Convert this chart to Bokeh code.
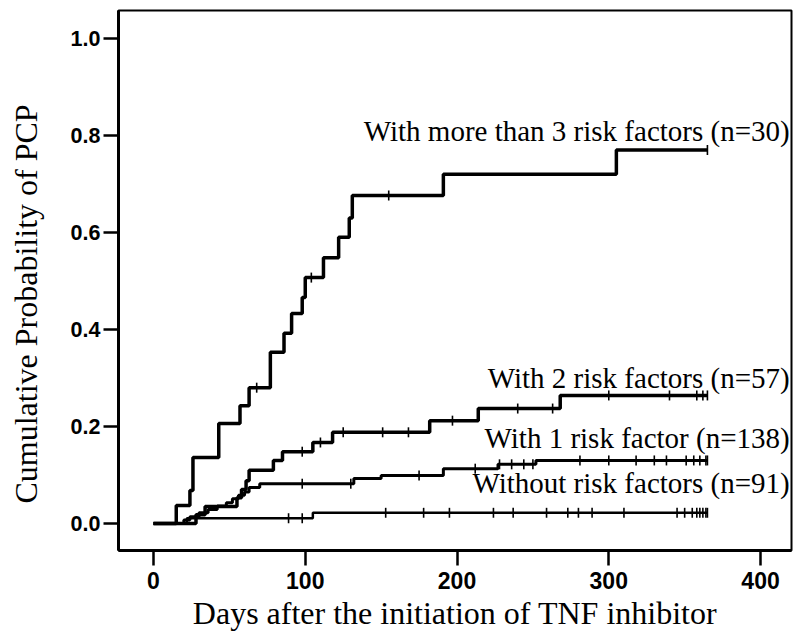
import numpy as np
from bokeh.plotting import figure
from bokeh.models import Range1d, FixedTicker, PrintfTickFormatter, Label, Title
from bokeh.embed import file_html
from bokeh.resources import INLINE

# ---------------- data ----------------
END_DAY = 365

more3_days = [0, 15, 24, 26, 43, 57, 63, 77, 86, 91, 98, 100, 112, 122, 129, 131, 191, 305]
more3_prob = [0, 0.037, 0.068, 0.136, 0.206, 0.243, 0.28, 0.353, 0.392, 0.433, 0.466,
              0.507, 0.548, 0.59, 0.63, 0.676, 0.72, 0.77]
more3_cens = [68, 104, 155, 365]

two_days = [0, 28, 34, 55, 58, 61, 63, 79, 85, 105, 118, 182, 214, 268]
two_prob = [0, 0.018, 0.035, 0.053, 0.07, 0.088, 0.11, 0.13, 0.148, 0.167, 0.188,
            0.212, 0.237, 0.264]
two_cens = [98, 110, 125, 151, 168, 197, 240, 263, 300, 340, 358, 362, 365]

one_days = [0, 20, 24, 30, 36, 42, 48, 52, 56, 60, 63, 70, 132, 150, 191, 227, 252]
one_prob = [0, 0.007, 0.014, 0.022, 0.029, 0.036, 0.043, 0.051, 0.058, 0.065, 0.074,
            0.082, 0.093, 0.099, 0.113, 0.122, 0.13]
one_cens = [98, 130, 175, 212, 228, 236, 244, 250, 281, 300, 318, 330, 338, 351,
            356, 360, 364, 365]

none_days = [0, 22, 105]
none_prob = [0, 0.011, 0.022]
none_cens = [89, 98, 153, 178, 195, 224, 237, 259, 273, 280, 289, 310, 345, 350,
             355, 358, 360, 362, 364, 365]

labels = ["With more than 3 risk factors (n=30)",
          "With 2 risk factors (n=57)",
          "With 1 risk factor (n=138)",
          "Without risk factors (n=91)"]

x_ticks = [0, 100, 200, 300, 400]
y_ticks = [0.0, 0.2, 0.4, 0.6, 0.8, 1.0]
x_title = "Days after the initiation of TNF inhibitor"
y_title = "Cumulative Probability of PCP"

# ---------------- figure ----------------
p = figure(width=793, height=634, output_backend="svg", toolbar_location=None,
           x_range=Range1d(-23.06, 420.4), y_range=Range1d(-0.0557, 1.0577),
           min_border_left=118, min_border_right=2, min_border_top=10,
           min_border_bottom=84)
p.grid.visible = False
p.outline_line_color = "black"
p.outline_line_width = 2
p.background_fill_color = "white"
p.border_fill_color = "white"

for ax in (p.xaxis[0], p.yaxis[0]):
    ax.axis_line_width = 3
    ax.major_tick_line_width = 2.5
    ax.major_tick_out = 15
    ax.major_tick_in = 0
    ax.minor_tick_line_color = None
    ax.major_label_text_color = "black"
    ax.major_label_text_font = "Liberation Sans"
    ax.major_label_text_font_style = "bold"

p.xaxis[0].ticker = FixedTicker(ticks=x_ticks)
p.xaxis[0].major_label_text_font_size = "23px"
p.xaxis[0].major_label_standoff = 6
p.xaxis[0].axis_label = x_title
p.xaxis[0].axis_label_text_font = "Liberation Serif"
p.xaxis[0].axis_label_text_font_style = "normal"
p.xaxis[0].axis_label_text_font_size = "32px"
p.xaxis[0].axis_label_text_color = "black"
p.xaxis[0].axis_label_standoff = 3

p.yaxis[0].ticker = FixedTicker(ticks=y_ticks)
p.yaxis[0].formatter = PrintfTickFormatter(format="%.1f")
p.yaxis[0].major_label_text_font_size = "21.5px"
p.yaxis[0].major_label_standoff = 3
# blank spacer so the rotated title sits further out, as in the reference
p.yaxis[0].axis_label = "\u00a0"
p.yaxis[0].axis_label_text_font_size = "1px"
p.yaxis[0].axis_label_text_alpha = 0
p.yaxis[0].axis_label_standoff = 15

ytitle = Title(text=y_title, align="left", offset=47, vertical_align="bottom",
               text_font="Liberation Serif",
               text_font_style="normal", text_font_size="32px", text_color="black")
p.add_layout(ytitle, "left")

groups = [
    (more3_days, more3_prob, more3_cens, 3.5),
    (two_days, two_prob, two_cens, 3.5),
    (one_days, one_prob, one_cens, 3.0),
    (none_days, none_prob, none_cens, 2.5),
]
for days, prob, cens, lw in groups:
    xs = list(days) + [END_DAY]
    ys = list(prob) + [prob[-1]]
    p.step(xs, ys, mode="after", line_color="black", line_width=lw)
    d = np.asarray(days)
    pr = np.asarray(prob)
    cy = pr[np.searchsorted(d, np.asarray(cens), side="right") - 1]
    p.scatter(cens, cy, marker="dash", angle=np.pi / 2, size=10,
              line_color="black", line_width=1.6)

# curve labels
label_pos = [(419.2, 0.810), (419.2, 0.300), (419.2, 0.177), (419.2, 0.084)]
for txt, (lx, ly) in zip(labels, label_pos):
    p.add_layout(Label(x=lx, y=ly, text=txt, text_align="right",
                       text_baseline="alphabetic", text_font="Liberation Serif",
                       text_font_size="29px", text_color="black"))

open("out.html", "w").write(file_html(p, INLINE))
